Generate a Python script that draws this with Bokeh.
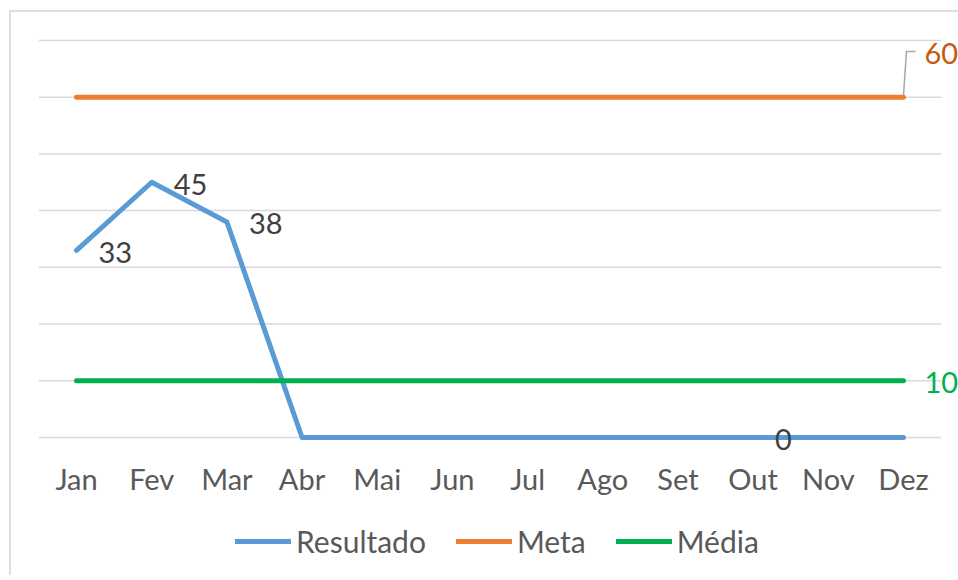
from bokeh.plotting import figure
from bokeh.models import (Range1d, FactorRange, Legend, LegendItem, ColumnDataSource,
                          LabelSet)
from bokeh.core.properties import value
from bokeh.embed import file_html
from bokeh.resources import INLINE

months = ["Jan", "Fev", "Mar", "Abr", "Mai", "Jun", "Jul", "Ago", "Set", "Out", "Nov", "Dez"]
resultado = [33, 45, 38, 0, 0, 0, 0, 0, 0, 0, 0, 0]
meta = [60] * 12
media = [10] * 12
y_ticks = [0, 10, 20, 30, 40, 50, 60, 70]

FONT = "Lato"
FS = "29px"
n = len(months)

p = figure(x_range=FactorRange(*months, range_padding=0.232, range_padding_units="absolute"),
           y_range=Range1d(-24.34, 70.7),
           output_backend="svg", toolbar_location=None,
           min_border_left=10, min_border_right=0, min_border_top=24, min_border_bottom=0,
           frame_width=937, frame_height=539)
p.styles = {"margin-left": "9px", "margin-top": "10px",
            "border-left": "2px solid #DEDEDE", "border-top": "2px solid #DEDEDE"}
p.outline_line_color = None
p.background_fill_color = "white"
p.border_fill_color = "white"

p.yaxis.visible = False
p.xgrid.visible = False
p.ygrid.visible = False

# horizontal gridlines spanning the category band
p.segment(x0=[0] * len(y_ticks), x1=[n] * len(y_ticks), y0=y_ticks, y1=y_ticks,
          line_color="#D9D9D9", line_width=1.5)

p.xaxis.axis_line_color = None
p.xaxis.major_tick_line_color = None
p.xaxis.minor_tick_line_color = None
p.xaxis.major_label_text_font = FONT
p.xaxis.major_label_text_font_size = FS
p.xaxis.major_label_text_color = "#595959"
p.xaxis.major_label_standoff = -121

r1 = p.line(months, resultado, line_color="#5B9BD5", line_width=5,
            line_cap="round", line_join="round")
r2 = p.line(months, meta, line_color="#ED7D31", line_width=5,
            line_cap="round", line_join="round")
r3 = p.line(months, media, line_color="#00B050", line_width=5,
            line_cap="round", line_join="round")

# Data labels for Resultado (Jan-Mar, and Out)
lab_idx = [0, 1, 2, 9]
src = ColumnDataSource(dict(x=[months[i] for i in lab_idx],
                            y=[resultado[i] for i in lab_idx],
                            t=[str(resultado[i]) for i in lab_idx]))
p.add_layout(LabelSet(x="x", y="y", text="t", source=src, x_offset=22, y_offset=-2,
                      text_font=value(FONT), text_font_size=FS, text_color="#404040",
                      text_baseline="middle", text_align="left"))

# Meta label with leader line
last = n - 0.5
p.line([last, last + 0.04, last + 0.16], [meta[-1] + 0.3, meta[-1] + 8.07, meta[-1] + 8.07],
       line_color="#A6A6A6", line_width=1.5)
msrc = ColumnDataSource(dict(x=[months[-1]], y=[meta[-1]], t=[str(meta[-1])]))
p.add_layout(LabelSet(x="x", y="y", text="t", source=msrc, x_offset=21, y_offset=44,
                      text_font=value(FONT), text_font_size=FS, text_color="#C55A11",
                      text_baseline="middle", text_align="left"))
dsrc = ColumnDataSource(dict(x=[months[-1]], y=[media[-1]], t=[str(media[-1])]))
p.add_layout(LabelSet(x="x", y="y", text="t", source=dsrc, x_offset=21, y_offset=-2,
                      text_font=value(FONT), text_font_size=FS, text_color="#00B050",
                      text_baseline="middle", text_align="left"))

legend = Legend(items=[LegendItem(label="Resultado", renderers=[r1]),
                       LegendItem(label="Meta", renderers=[r2]),
                       LegendItem(label="Média", renderers=[r3])],
                orientation="horizontal", location=(214, 16),
                label_text_font=FONT, label_text_font_size="30px", label_text_color="#595959",
                glyph_width=56, glyph_height=20, label_standoff=5, spacing=30,
                border_line_color=None, background_fill_alpha=0, padding=0, margin=0)
p.add_layout(legend, "center")

open("out.html", "w").write(file_html(p, INLINE))
